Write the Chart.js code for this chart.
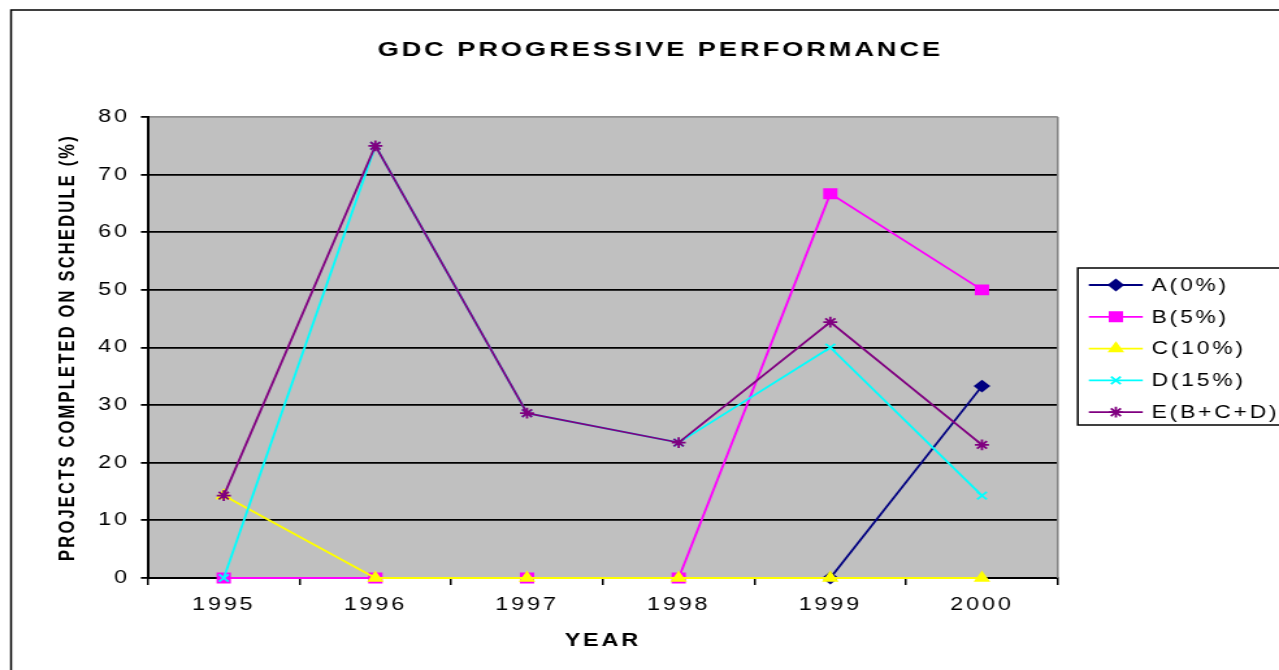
<!DOCTYPE html>
<html>
<head>
<meta charset="utf-8">
<title>GDC Progressive Performance</title>
<script src="https://cdn.jsdelivr.net/npm/chart.js@4/dist/chart.umd.min.js"></script>
<style>
  html, body { margin: 0; padding: 0; background: #fff; overflow: hidden; }
  canvas { display: block; }
</style>
</head>
<body>
<canvas id="c" width="984" height="670" style="width:1279px;height:670px"></canvas>
<script>
// ---- data ----
const years = ['1995', '1996', '1997', '1998', '1999', '2000'];
const seriesA = [null, null, null, null, 0, 33.3];
const seriesB = [0, 0, 0, 0, 66.7, 50];
const seriesC = [14.3, 0, 0, 0, 0, 0];
const seriesD = [0, 75, 28.6, 23.5, 40, 14.3];
const seriesE = [14.3, 75, 28.6, 23.5, 44.4, 23.1];
const yTicks = [0, 10, 20, 30, 40, 50, 60, 70, 80];
const seriesNames = ['A(0%)', 'B(5%)', 'C(10%)', 'D(15%)', 'E(B+C+D)'];
const chartTitle = 'GDC PROGRESSIVE PERFORMANCE';
const xTitle = 'YEAR';
const yTitle = 'PROJECTS COMPLETED ON SCHEDULE (%)';

// ---- styling ----
const FONT = '"Liberation Sans", Arial, sans-serif';
const SPACING = '2.2px';
const LINE_W = 1.8;
const seriesStyles = [
  { color: '#000080', point: 'rectRot',  radius: 5.2 },
  { color: '#FF00FF', point: 'rect',     radius: 6.5 },
  { color: '#FFFF00', point: 'triangle', radius: 5.6 },
  { color: '#00FFFF', point: 'crossRot', radius: 5.2 },
  { color: '#800080', point: 'star',     radius: 5.4 }
];
const seriesData = [seriesA, seriesB, seriesC, seriesD, seriesE];

Chart.defaults.font.family = FONT;
Chart.defaults.color = '#000';

function markPoint(ctx, st, x, y) {
  ctx.save();
  ctx.fillStyle = st.color;
  ctx.strokeStyle = st.color;
  ctx.lineWidth = LINE_W;
  Chart.helpers.drawPoint(ctx, { pointStyle: st.point, radius: st.radius, rotation: 0, borderWidth: LINE_W }, x, y);
  ctx.restore();
}

// plot background, frame, title and legend
const decorations = {
  id: 'decorations',
  beforeUpdate(chart) { chart.ctx.letterSpacing = SPACING; },
  beforeDraw(chart) {
    const { ctx, chartArea: a } = chart;
    ctx.letterSpacing = SPACING;
    ctx.save();
    ctx.fillStyle = '#C0C0C0';
    ctx.fillRect(a.left, a.top, a.right - a.left, a.bottom - a.top);
    ctx.restore();
  },
  beforeDatasetsDraw(chart) {
    const { ctx, chartArea: a } = chart;
    ctx.save();
    ctx.strokeStyle = '#808080';
    ctx.lineWidth = 1.5;
    ctx.beginPath();
    ctx.moveTo(a.right, a.top);
    ctx.lineTo(a.right, a.bottom);
    ctx.stroke();
    ctx.restore();
  },
  afterDraw(chart) {
    const ctx = chart.ctx;
    ctx.save();
    ctx.letterSpacing = SPACING;
    // outer frame
    ctx.strokeStyle = '#000';
    ctx.lineWidth = 1.5;
    ctx.strokeRect(8.5, 10, 1200, 1000);
    // title
    ctx.fillStyle = '#000';
    ctx.font = 'bold 21px ' + FONT;
    ctx.textAlign = 'center';
    ctx.textBaseline = 'middle';
    ctx.fillText(chartTitle, 508, 50);
    // legend box
    ctx.fillStyle = '#fff';
    ctx.fillRect(829.2, 268, 400, 157);
    ctx.strokeStyle = '#000';
    ctx.lineWidth = 1.5;
    ctx.strokeRect(829.2, 268, 400, 157);
    ctx.font = '17.5px ' + FONT;
    ctx.textAlign = 'left';
    seriesNames.forEach((name, i) => {
      const y = 285 + i * 31.8;
      const st = seriesStyles[i];
      ctx.strokeStyle = st.color;
      ctx.lineWidth = LINE_W;
      ctx.beginPath();
      ctx.moveTo(837.7, y);
      ctx.lineTo(879.2, y);
      ctx.stroke();
      markPoint(ctx, st, 858.5, y);
      ctx.fillStyle = '#000';
      ctx.fillText(name, 886, y + 1);
    });
    ctx.restore();
  }
};

const canvas = document.getElementById('c');
new Chart(canvas, {
  type: 'line',
  data: {
    labels: years,
    datasets: seriesData.map((data, i) => ({
      label: seriesNames[i],
      data: data,
      borderColor: seriesStyles[i].color,
      backgroundColor: seriesStyles[i].color,
      borderWidth: LINE_W,
      pointStyle: seriesStyles[i].point,
      pointRadius: seriesStyles[i].radius,
      pointHoverRadius: seriesStyles[i].radius,
      pointBorderWidth: LINE_W,
      pointBackgroundColor: seriesStyles[i].color,
      pointBorderColor: seriesStyles[i].color,
      tension: 0,
      clip: false,
      order: seriesData.length - i
    }))
  },
  options: {
    responsive: false,
    animation: false,
    events: [],
    layout: { padding: { left: 0, top: 117, right: 170.2, bottom: 0 } },
    plugins: { legend: { display: false }, title: { display: false }, tooltip: { enabled: false } },
    scales: {
      x: {
        type: 'category',
        offset: true,
        grid: {
          offset: true,
          drawOnChartArea: false,
          drawTicks: true,
          tickLength: 7,
          color: '#000',
          lineWidth: 1.5
        },
        border: { display: true, color: '#000', width: 2 },
        ticks: { font: { size: 18 }, color: '#000', padding: 9, maxRotation: 0 },
        title: {
          display: true,
          text: xTitle,
          font: { size: 18, weight: 'bold' },
          color: '#000',
          padding: { top: 0, bottom: 18.2 }
        },
        afterFit(scale) { scale.height = 92; }
      },
      y: {
        min: yTicks[0],
        max: yTicks[yTicks.length - 1],
        ticks: { stepSize: yTicks[1] - yTicks[0], font: { size: 18 }, color: '#000', padding: 8.4 },
        grid: {
          color: (c) => (c.tick && c.tick.value === yTicks[yTicks.length - 1]) ? '#909090' : '#000',
          tickColor: '#000',
          lineWidth: 1.8,
          tickLength: 5.4
        },
        border: { display: true, color: '#000', width: 2 },
        title: {
          display: true,
          text: yTitle,
          font: { size: 16.5, weight: 'bold' },
          color: '#000',
          padding: { top: 42.5, bottom: 0 }
        },
        afterFit(scale) { scale.width = 113.8; }
      }
    }
  },
  plugins: [decorations]
});
canvas.style.width = '1279px';
canvas.style.height = '670px';
</script>
</body>
</html>
